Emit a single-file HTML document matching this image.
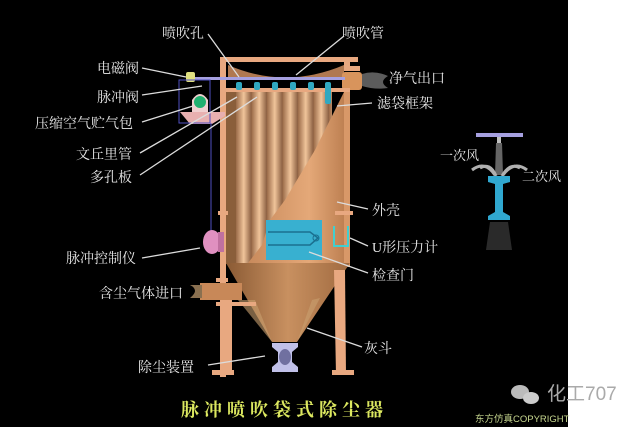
<!DOCTYPE html>
<html><head><meta charset="utf-8"><style>
html,body{margin:0;padding:0;background:#fff}
svg{display:block}
text{font-family:"Liberation Serif","Noto Serif CJK SC",serif;fill:#e8e8e8;font-size:14px}
</style></head><body>
<svg width="640" height="427" viewBox="0 0 640 427" xmlns="http://www.w3.org/2000/svg">
<defs>
<linearGradient id="bag" x1="0" x2="1" y1="0" y2="0">
<stop offset="0" stop-color="#9a6a48"/><stop offset="0.5" stop-color="#f0c49a"/><stop offset="1" stop-color="#8a5e40"/>
</linearGradient>
<pattern id="bags" width="15.5" height="10" patternUnits="userSpaceOnUse" x="236">
<rect width="15.5" height="10" fill="url(#bag)"/>
</pattern>
<linearGradient id="shell" x1="0" x2="1"><stop offset="0" stop-color="#c88a5c"/><stop offset="0.6" stop-color="#e4a878"/><stop offset="1" stop-color="#b87a4c"/></linearGradient>
<linearGradient id="cone" x1="0" x2="1"><stop offset="0" stop-color="#8a5a34"/><stop offset="0.5" stop-color="#c89060"/><stop offset="1" stop-color="#a06a40"/></linearGradient>
</defs>
<rect x="0" y="0" width="568" height="427" fill="#000"/>
<rect x="568" y="0" width="72" height="427" fill="#fff"/>

<rect x="220" y="57" width="138" height="5" fill="#e8a880"/>
<rect x="220" y="57" width="6" height="320" fill="#e8a880"/>
<rect x="344" y="57" width="6" height="14" fill="#e8a880"/>
<rect x="350" y="66" width="10" height="5" fill="#e8a880"/>
<path d="M228 65 Q285 90 344 65 L344 78 L228 78 Z" fill="#b07850"/>
<rect x="342" y="72" width="20" height="18" rx="3" fill="#d8945c"/>
<path d="M362 74 Q375 70 388 76 Q378 82 388 88 Q375 90 362 86 Z" fill="#9a9a9a" opacity="0.6"/>
<rect x="195" y="77" width="150" height="3" fill="#a6a0e0"/>
<rect x="186" y="72" width="9" height="10" rx="2" fill="#e0e080"/>
<rect x="220" y="88" width="130" height="4" fill="#e8a880"/>
<rect x="236" y="92" width="96" height="172" fill="url(#bags)"/>
<rect x="226" y="92" width="10" height="172" fill="#8a5e3a"/>
<g fill="#30a8c0">
<rect x="236" y="82" width="6" height="8" rx="2"/><rect x="254" y="82" width="6" height="8" rx="2"/>
<rect x="272" y="82" width="6" height="8" rx="2"/><rect x="290" y="82" width="6" height="8" rx="2"/>
<rect x="308" y="82" width="6" height="8" rx="2"/><rect x="325" y="82" width="6" height="22" rx="2"/>
</g>
<path d="M344 92 L350 92 L350 263 L248 263 L262 245 L270 220 L285 200 L300 175 L315 150 L330 120 L340 100 Z" fill="url(#shell)"/>
<rect x="344" y="92" width="6" height="175" fill="#d89868"/>
<rect x="218" y="211" width="10" height="4" fill="#e8a880"/>
<rect x="335" y="211" width="18" height="4" fill="#e8a880"/>
<path d="M226 263 L350 263 L297 342 L272 342 Z" fill="url(#cone)"/>
<path d="M238 300 L272 342 L255 300 Z M320 298 L297 342 L312 300 Z" fill="#c9a070" opacity="0.6"/>
<rect x="222" y="300" width="10" height="75" fill="#e8a880"/>
<rect x="212" y="370" width="22" height="5" fill="#e8a880"/>
<rect x="216" y="278" width="12" height="4" fill="#e8a880"/>
<path d="M334 270 L345 270 L346 375 L336 375 Z" fill="#e8a880"/>
<rect x="332" y="370" width="22" height="5" fill="#e8a880"/>
<rect x="200" y="283" width="42" height="17" fill="#c88858"/>
<path d="M190 285 Q200 290 190 298 L202 298 L202 285 Z" fill="#8a7050"/>
<rect x="216" y="302" width="40" height="4" fill="#e8a880"/>
<path d="M272 343 L298 343 L298 347 L292 352 L292 362 L298 367 L298 372 L272 372 L272 367 L278 362 L278 352 L272 347 Z" fill="#c0c0e8"/>
<ellipse cx="285" cy="357" rx="6" ry="8" fill="#7070a0"/>
<rect x="266" y="220" width="56" height="40" fill="#38b0d0"/>
<path d="M268 232 L310 232 L318 238 L310 245 L268 245" fill="none" stroke="#1a7090" stroke-width="1.5"/>
<circle cx="316" cy="238" r="3" fill="none" stroke="#1a7090"/>
<path d="M334 226 L334 246 L348 246 L348 226" fill="none" stroke="#40d0d0" stroke-width="2"/>
<path d="M192 112 L192 100 Q200 88 208 100 L208 112 Z" fill="#f0d0d0"/>
<circle cx="200" cy="102" r="6" fill="#20b070"/>
<path d="M180 112 L225 112 L225 116 L212 124 L190 124 Z" fill="#e8b0b0"/>
<rect x="179" y="80" width="31" height="43" fill="none" stroke="#5050c0" stroke-width="1"/>
<line x1="211" y1="123" x2="211" y2="232" stroke="#5050c0" stroke-width="1"/>
<ellipse cx="212" cy="242" rx="9" ry="12" fill="#e090c0"/>
<rect x="218" y="232" width="6" height="20" fill="#c070a0"/>

<g stroke="#dcdcdc" stroke-width="1.3">
<line x1="208" y1="34" x2="239" y2="77"/>
<line x1="344" y1="36" x2="296" y2="75"/>
<line x1="142" y1="68" x2="186" y2="77"/>
<line x1="142" y1="95" x2="202" y2="86"/>
<line x1="142" y1="122" x2="193" y2="106"/>
<line x1="140" y1="153" x2="237" y2="97"/>
<line x1="140" y1="175" x2="257" y2="97"/>
<line x1="372" y1="103" x2="337" y2="106"/>
<line x1="368" y1="209" x2="337" y2="202"/>
<line x1="368" y1="246" x2="350" y2="238"/>
<line x1="368" y1="273" x2="309" y2="252"/>
<line x1="142" y1="258" x2="200" y2="248"/>
<line x1="362" y1="347" x2="307" y2="328"/>
<line x1="208" y1="365" x2="265" y2="356"/>
</g>

<text x="162" y="38">喷吹孔</text>
<text x="342" y="38">喷吹管</text>
<text x="97" y="73">电磁阀</text>
<text x="389" y="83">净气出口</text>
<text x="97" y="102">脉冲阀</text>
<text x="377" y="108">滤袋框架</text>
<text x="35" y="128">压缩空气贮气包</text>
<text x="76" y="159">文丘里管</text>
<text x="90" y="182">多孔板</text>
<text x="372" y="215">外壳</text>
<text x="372" y="252">U形压力计</text>
<text x="66" y="263">脉冲控制仪</text>
<text x="372" y="280">检查门</text>
<text x="99" y="298">含尘气体进口</text>
<text x="364" y="353">灰斗</text>
<text x="138" y="372">除尘装置</text>

<rect x="476" y="133" width="47" height="4" fill="#a6a0e0"/>
<rect x="497" y="137" width="4" height="6" fill="#c0c0c0"/>
<path d="M496 143 L502 143 L503 175 L495 175 Z" fill="#909090" opacity="0.7"/>
<path d="M472 170 Q485 160 495 175 M527 170 Q514 160 503 175 M480 168 Q490 162 496 176 M520 168 Q510 162 502 176" stroke="#b0b0b0" stroke-width="3" fill="none"/>
<path d="M488 176 L510 176 L510 182 L503 184 L503 212 L510 216 L510 220 L488 220 L488 216 L495 212 L495 184 L488 182 Z" fill="#30a8d0"/>
<path d="M490 222 L508 222 L512 250 L486 250 Z" fill="#777" opacity="0.35"/>
<text x="440" y="160" style="font-size:13px">一次风</text>
<text x="522" y="181" style="font-size:13px">二次风</text>

<text x="181" y="416" style="font-size:18px;fill:#dce860;letter-spacing:5px;font-weight:bold">脉冲喷吹袋式除尘器</text>
<ellipse cx="520" cy="392" rx="9" ry="7" fill="#bbb"/>
<ellipse cx="531" cy="398" rx="8" ry="6" fill="#ccc"/>
<text x="547" y="400" style="font-family:'Liberation Sans','Noto Sans CJK SC',sans-serif;font-size:19px;fill:#aaa">化工707</text>
<text x="475" y="422" style="font-family:'Liberation Sans','Noto Sans CJK SC',sans-serif;font-size:9.5px;fill:#c8d890">东方仿真COPYRIGHT</text>
</svg>
</body></html>
